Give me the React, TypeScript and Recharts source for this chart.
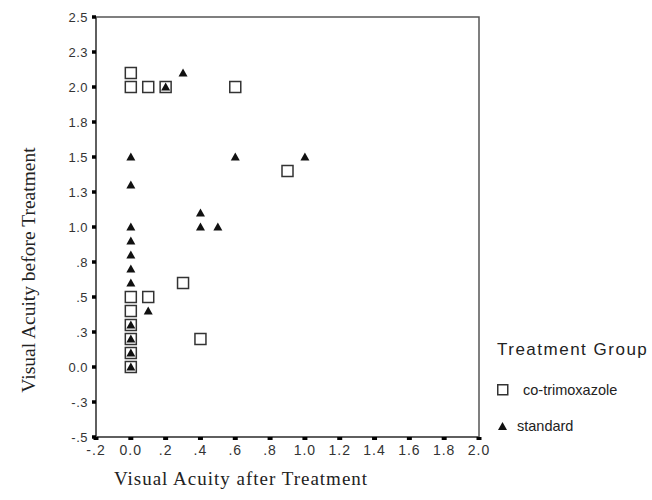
import React from 'react';
import {
  ScatterChart, Scatter, XAxis, YAxis, ReferenceArea, Legend, Label
} from 'recharts';

// Visual acuity (after, before) per patient
const CO_TRIMOXAZOLE_AFTER = [0, 0, 0.1, 0.2, 0.6, 0.9, 0, 0.1, 0, 0.3, 0, 0, 0, 0, 0.4];
const CO_TRIMOXAZOLE_BEFORE = [2.1, 2.0, 2.0, 2.0, 2.0, 1.4, 0.5, 0.5, 0.4, 0.6, 0.3, 0.2, 0.1, 0.0, 0.2];

const STANDARD_AFTER = [0.2, 0.3, 0, 0.6, 1.0, 0, 0.4, 0.4, 0.5, 0, 0, 0, 0, 0, 0.1, 0, 0, 0, 0];
const STANDARD_BEFORE = [2.0, 2.1, 1.5, 1.5, 1.5, 1.3, 1.1, 1.0, 1.0, 1.0, 0.9, 0.8, 0.7, 0.6, 0.4, 0.3, 0.2, 0.1, 0.0];

const X_TICKS = [-0.2, 0, 0.2, 0.4, 0.6, 0.8, 1.0, 1.2, 1.4, 1.6, 1.8, 2.0];
const X_TICK_LABELS = ['-.2', '0.0', '.2', '.4', '.6', '.8', '1.0', '1.2', '1.4', '1.6', '1.8', '2.0'];
const Y_TICKS = [-0.5, -0.25, 0, 0.25, 0.5, 0.75, 1.0, 1.25, 1.5, 1.75, 2.0, 2.25, 2.5];
const Y_TICK_LABELS = ['-.5', '-.3', '0.0', '.3', '.5', '.8', '1.0', '1.3', '1.5', '1.8', '2.0', '2.3', '2.5'];

const toPoints = (xs: number[], ys: number[]) => xs.map((x, i) => ({ x, y: ys[i] }));

const coData = toPoints(CO_TRIMOXAZOLE_AFTER, CO_TRIMOXAZOLE_BEFORE);
const stdData = toPoints(STANDARD_AFTER, STANDARD_BEFORE);

const SANS = '"Liberation Sans", Arial, sans-serif';
const SERIF = '"Liberation Serif", "Times New Roman", serif';

const SquareMarker = (props: any) => {
  const { cx, cy } = props;
  return <rect x={cx - 5.5} y={cy - 5.5} width={11} height={11} fill="none" stroke="#333" strokeWidth={1.5} />;
};

const TriangleMarker = (props: any) => {
  const { cx, cy } = props;
  return <polygon points={`${cx},${cy - 4.5} ${cx + 4.5},${cy + 3.5} ${cx - 4.5},${cy + 3.5}`} fill="#111" />;
};

const LegendContent = () => (
  <div style={{ position: 'relative', width: 160, height: 110, fontFamily: SANS, color: '#222' }}>
    <div style={{ position: 'absolute', left: 0, top: 8, lineHeight: '24px', fontSize: 17, letterSpacing: 1.5, whiteSpace: 'nowrap' }}>
      Treatment Group
    </div>
    <svg style={{ position: 'absolute', left: 0, top: 54 }} width={12} height={12}>
      <rect x={0.75} y={0.75} width={10} height={10} fill="none" stroke="#333" strokeWidth={1.5} />
    </svg>
    <div style={{ position: 'absolute', left: 26, top: 48, lineHeight: '24px', fontSize: 14.5, whiteSpace: 'nowrap' }}>
      co-trimoxazole
    </div>
    <svg style={{ position: 'absolute', left: 1, top: 92 }} width={9} height={8}>
      <polygon points="4.5,0 9,8 0,8" fill="#111" />
    </svg>
    <div style={{ position: 'absolute', left: 20, top: 84, lineHeight: '24px', fontSize: 14.5, whiteSpace: 'nowrap' }}>
      standard
    </div>
  </div>
);

export default function App() {
  return (
    <div style={{ position: 'absolute', left: 0, top: 0, background: '#fff' }}>
      <ScatterChart width={652} height={500} margin={{ top: 17, right: 173, bottom: 0, left: 0 }}>
        <XAxis
          type="number"
          dataKey="x"
          domain={[-0.2, 2.0]}
          ticks={X_TICKS}
          tickFormatter={(v: number) => X_TICK_LABELS[X_TICKS.indexOf(v)] ?? ''}
          height={63}
          allowDataOverflow
          axisLine={{ stroke: '#555', strokeWidth: 1.5 }}
          tickLine={{ stroke: '#000', strokeWidth: 5 }}
          tickSize={3}
          tickMargin={5}
          tick={{ fontSize: 14, fill: '#333', fontFamily: SANS, letterSpacing: 1 }}
          interval={0}
        >
          <Label
            content={() => (
              <text x={241} y={485} textAnchor="middle" fontSize={19} letterSpacing={1} fill="#222" fontFamily={SERIF}>
                Visual Acuity after Treatment
              </text>
            )}
          />
        </XAxis>
        <YAxis
          type="number"
          dataKey="y"
          domain={[-0.5, 2.5]}
          ticks={Y_TICKS}
          tickFormatter={(v: number) => Y_TICK_LABELS[Y_TICKS.indexOf(v)] ?? ''}
          width={96}
          allowDataOverflow
          axisLine={{ stroke: '#555', strokeWidth: 1.5 }}
          tickLine={{ stroke: '#000', strokeWidth: 3.5 }}
          tickSize={4}
          tickMargin={4}
          tick={{ fontSize: 13, fill: '#333', fontFamily: SANS, letterSpacing: 0.5 }}
          interval={0}
        >
          <Label
            content={() => (
              <text x={28} y={270} transform="rotate(-90, 28, 270)" textAnchor="middle" dominantBaseline="central" fontSize={19.5} fill="#222" fontFamily={SERIF}>
                Visual Acuity before Treatment
              </text>
            )}
          />
        </YAxis>
        <ReferenceArea x1={-0.2} x2={2.0} y1={-0.5} y2={2.5} fill="none" stroke="#555" strokeWidth={1.5} ifOverflow="visible" />
        <Legend
          layout="vertical"
          align="center"
          verticalAlign="middle"
          content={<LegendContent />}
          wrapperStyle={{ left: 497, top: 330, width: 160, height: 110 }}
        />
        <Scatter name="co-trimoxazole" data={coData} shape={<SquareMarker />} isAnimationActive={false} />
        <Scatter name="standard" data={stdData} shape={<TriangleMarker />} isAnimationActive={false} />
      </ScatterChart>
    </div>
  );
}
